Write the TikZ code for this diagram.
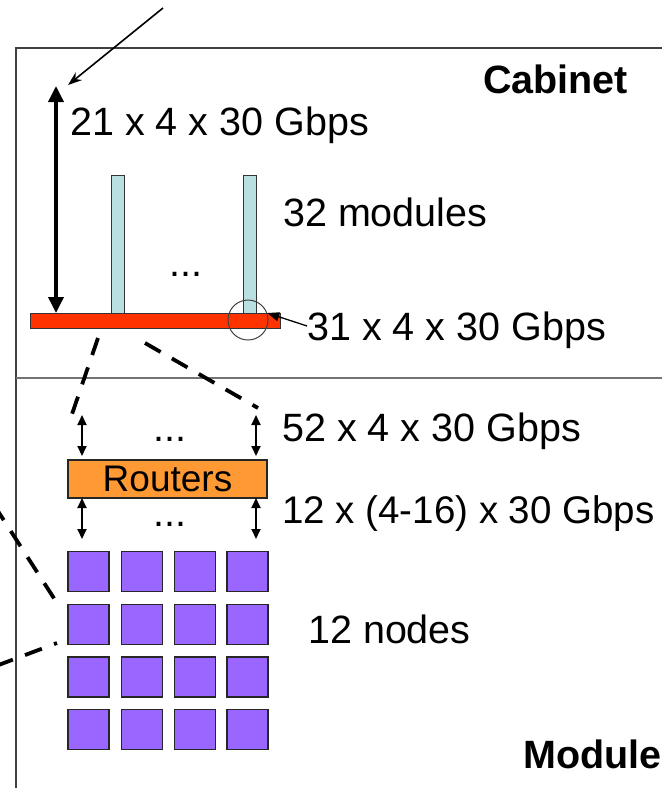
\documentclass[tikz,border=0pt]{standalone}
\usepackage{fontspec}
\setmainfont{Liberation Sans}
\usetikzlibrary{arrows.meta}
\definecolor{slotblue}{RGB}{185,224,224}
\definecolor{backred}{RGB}{255,51,0}
\definecolor{routerorange}{RGB}{255,153,51}
\definecolor{nodepurple}{RGB}{153,102,255}
\newcommand{\lowdots}{\raisebox{0pt}[0.12em][0pt]{...}}
\tikzset{
  lbl/.style={anchor=base west, inner sep=0pt, font=\fontsize{39.5}{46}\selectfont},
  title/.style={anchor=base west, inner sep=0pt, font=\fontsize{39.5}{46}\selectfont\bfseries},
  dots/.style={anchor=base, inner sep=0pt, font=\fontsize{39.5}{46}\selectfont},
  frame/.style={draw=black!75, line width=1.2pt},
  slotbar/.style={draw=black!80, fill=slotblue, line width=0.9pt, inner sep=0pt,
                  minimum width=13pt, minimum height=138pt},
  backplane/.style={draw=black!80, fill=backred, line width=0.9pt, inner sep=0pt,
                    minimum width=250pt, minimum height=15pt},
  routerbox/.style={draw=black!85, fill=routerorange, line width=1.2pt, inner sep=0pt,
                    minimum width=199pt, minimum height=38pt,
                    font=\fontsize{37}{44}\selectfont},
  cpu/.style={draw=black!85, fill=nodepurple, line width=1.2pt, inner sep=0pt,
              minimum width=41pt, minimum height=40pt},
  fat/.style={line width=3.5pt, {Triangle[length=16pt,width=15pt]}-{Triangle[length=16pt,width=15pt]}},
  thin2/.style={line width=1.8pt, {Triangle[length=10pt,width=9pt]}-{Triangle[length=10pt,width=9pt]}},
  pointer/.style={line width=1.6pt, -{Stealth[length=14pt,width=10pt]}},
  zoomline/.style={line width=3.8pt, dash pattern=on 18pt off 13pt},
}
\begin{document}
\begin{tikzpicture}[x=1pt,y=-1pt]
\useasboundingbox (0,0) rectangle (662,788);

% cabinet / module frame
\coordinate (fTR) at (662,48);
\coordinate (fTL) at (16,48);
\coordinate (fBL) at (16,788);
\coordinate (sepL) at (16,378);
\coordinate (sepR) at (662,378);
\draw[frame] (fTR) -- (fTL) -- (fBL);
\draw[frame, draw=black!55] (sepL) -- (sepR);

% ---------- cabinet ----------
\node[title] (cab) at (483,93) {Cabinet};

\node[slotbar] (m1) at (117.5,244) {};
\node[slotbar] (m2) at (250,244) {};
\node[backplane] (bp) at (155,320.5) {};
\node[dots] (mdots) at (186,276) {\lowdots};

\node[lbl] (l21) at (70,135) {21 x 4 x 30 Gbps};
\node[lbl] (l32) at (283,226) {32 modules};
\node[lbl] (l31) at (307,340) {31 x 4 x 30 Gbps};

\coordinate (upTop) at (56,86);
\coordinate (upBot) at (56,313);
\draw[fat] (upTop) -- (upBot);

\coordinate (inTail) at (163,8);
\coordinate (inHead) at (68,85);
\draw[pointer] (inTail) -- (inHead);

\node[draw=black!75, line width=1pt, circle, minimum size=40pt, inner sep=0pt] (zoom) at (248,320) {};
\coordinate (l31tail) at (307,326);
\draw[line width=1.3pt, -{Triangle[length=12pt,width=9pt]}] (l31tail) -- (zoom.20);

% ---------- module ----------
\node[title] (mod) at (523,768) {Module};

\node[routerbox] (rt) at (167.5,479) {Routers};

\coordinate (a1t) at (82,415);  \coordinate (a1b) at (82,456);
\coordinate (a2t) at (256,415); \coordinate (a2b) at (256,456);
\coordinate (b1t) at (82,498);  \coordinate (b1b) at (82,539);
\coordinate (b2t) at (256,498); \coordinate (b2b) at (256,539);
\draw[thin2] (a1t) -- (a1b);
\draw[thin2] (a2t) -- (a2b);
\draw[thin2] (b1t) -- (b1b);
\draw[thin2] (b2t) -- (b2b);
\node[dots] (rdots1) at (170,441) {\lowdots};
\node[dots] (rdots2) at (170,526) {\lowdots};

\node[lbl] (l52) at (282,441) {52 x 4 x 30 Gbps};
\node[lbl, font=\fontsize{38.5}{45}\selectfont] (l12) at (282,523) {12 x (4-16) x 30 Gbps};
\node[lbl] (lnodes) at (308,643) {12 nodes};

% 4 x 4 grid of compute nodes
\foreach \c/\x in {1/88.5,2/142,3/195,4/247.5}{
  \foreach \r/\y in {1/571.5,2/624.5,3/677,4/729.5}{
    \node[cpu] (n\r\c) at (\x,\y) {};
  }
}

% zoom-in guide lines
\coordinate (zA1) at (98,338);  \coordinate (zA2) at (70,420);
\coordinate (zB1) at (145,343); \coordinate (zB2) at (258,408);
\draw[zoomline] (zA1) -- (zA2);
\draw[zoomline] (zB1) -- (zB2);
\coordinate (zC1) at (-6,505);  \coordinate (zC2) at (57,603);
\coordinate (zD1) at (-4,666);  \coordinate (zD2) at (57,643);
\draw[zoomline] (zC1) -- (zC2);
\draw[zoomline] (zD1) -- (zD2);
\end{tikzpicture}
\end{document}
